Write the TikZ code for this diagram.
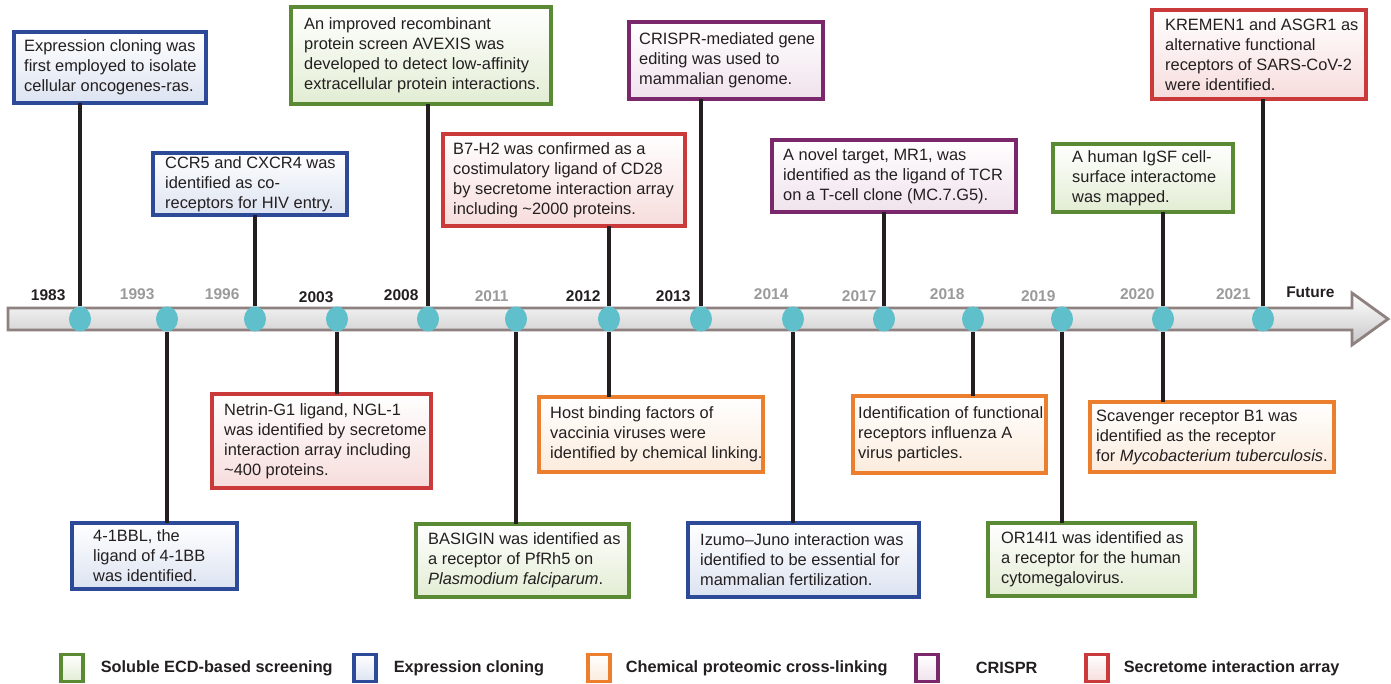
\documentclass[tikz,border=0pt]{standalone}
\usepackage{fontspec}
\setmainfont{Liberation Sans}
\usetikzlibrary{positioning,shapes.geometric,shadows}

\definecolor{blueline}{HTML}{2C4A97}
\definecolor{bluefill}{HTML}{DCE3F1}
\definecolor{greenline}{HTML}{5B8A34}
\definecolor{greenfill}{HTML}{E2EDD3}
\definecolor{orangeline}{HTML}{EC7F2E}
\definecolor{orangefill}{HTML}{FBEBDC}
\definecolor{purpleline}{HTML}{7A286B}
\definecolor{purplefill}{HTML}{F0E2EC}
\definecolor{redline}{HTML}{CB3A3B}
\definecolor{redfill}{HTML}{F7DCDC}
\definecolor{dotcol}{HTML}{5FBFCB}
\definecolor{barline}{HTML}{8E8180}
\definecolor{yeargray}{HTML}{9A9A9A}
\definecolor{ink}{HTML}{231F20}

\begin{document}
\begin{tikzpicture}[x=1pt,y=-1pt,
    evbox/.style={draw=#1line, top color=white, bottom color=#1fill, line width=3.2pt,
                  outer sep=0pt, inner sep=0pt, anchor=north west,
                  drop shadow={opacity=0.2, shadow xshift=1.5pt, shadow yshift=-1.5pt}},
    evtext/.style={anchor=west, align=left, inner sep=0pt, text=ink,
                   font=\fontsize{16.4}{20}\selectfont},
    stem/.style={draw=ink, line width=3.2pt},
    dot/.style={ellipse, fill=dotcol, minimum width=22, minimum height=25, inner sep=0pt},
    yr/.style={anchor=base east, text=ink, font=\bfseries\fontsize{15.5}{18}\selectfont},
    yrgray/.style={yr, text=yeargray},
    keybox/.style={draw=#1line, top color=white, bottom color=#1fill, line width=3.2pt,
                   minimum width=22, minimum height=27, inner sep=0pt},
    keytext/.style={text=ink, inner sep=0pt, font=\bfseries\fontsize{16.3}{19}\selectfont}
]
\path[use as bounding box] (0,0) rectangle (1391,684);

% the time line
\draw[draw=barline, line width=2.8pt, top color=white, bottom color=black!22]
  (8,308) -- (1352,308) -- (1352,293) -- (1388,319) -- (1352,345) -- (1352,330) -- (8,330) -- cycle;

% dots on the line
\node[dot] (d1983) at (80,319) {};
\node[dot] (d1993) at (167,319) {};
\node[dot] (d1996) at (255,319) {};
\node[dot] (d2003) at (337,319) {};
\node[dot] (d2008) at (428,319) {};
\node[dot] (d2011) at (516,319) {};
\node[dot] (d2012) at (609,319) {};
\node[dot] (d2013) at (701,319) {};
\node[dot] (d2014) at (793,319) {};
\node[dot] (d2017) at (884,319) {};
\node[dot] (d2018) at (973,319) {};
\node[dot] (d2019) at (1062,319) {};
\node[dot] (d2020) at (1163,319) {};
\node[dot] (d2021) at (1263,319) {};

% years
\node[yr] (y1983) at (69,301) {1983};
\node[yrgray] (y1993) at (158,300) {1993};
\node[yrgray] (y1996) at (243,300) {1996};
\node[yr] (y2003) at (337,303) {2003};
\node[yr] (y2008) at (422,301) {2008};
\node[yrgray] (y2011) at (512,302) {2011};
\node[yr] (y2012) at (604,302) {2012};
\node[yr] (y2013) at (694,302) {2013};
\node[yrgray] (y2014) at (792,300) {2014};
\node[yrgray] (y2017) at (880,302) {2017};
\node[yrgray] (y2018) at (968,300) {2018};
\node[yrgray] (y2019) at (1059,302) {2019};
\node[yrgray] (y2020) at (1158,300) {2020};
\node[yrgray] (y2021) at (1254,300) {2021};
\node[yr] (yfut) at (1338,298) {Future};

% events above the line
\node[evbox=blue, minimum width=192, minimum height=71,
      label={[evtext, xshift=10]west:{Expression cloning was\\first employed to isolate\\cellular oncogenes-ras.}}]
      (b1983) at (14,32) {};
\node[evbox=blue, minimum width=194, minimum height=62,
      label={[evtext, xshift=12]west:{CCR5 and CXCR4 was\\identified as co-\\receptors for HIV entry.}}]
      (b1996) at (153,153) {};
\node[evbox=green, minimum width=260, minimum height=97,
      label={[evtext, xshift=13]west:{An improved recombinant\\protein screen AVEXIS was\\developed to detect low-affinity\\extracellular protein interactions.}}]
      (b2008) at (291,7) {};
\node[evbox=red, minimum width=242, minimum height=92,
      label={[evtext, xshift=10]west:{B7-H2 was confirmed as a\\costimulatory ligand of CD28\\by secretome interaction array\\including \textasciitilde2000 proteins.}}]
      (b2012a) at (443,134) {};
\node[evbox=purple, minimum width=194, minimum height=77,
      label={[evtext, xshift=10]west:{CRISPR-mediated gene\\editing was used to\\mammalian genome.}}]
      (b2013) at (629,22) {};
\node[evbox=purple, minimum width=244, minimum height=72,
      label={[evtext, xshift=11]west:{A novel target, MR1, was\\identified as the ligand of TCR\\on a T-cell clone (MC.7.G5).}}]
      (b2017) at (772,140) {};
\node[evbox=green, minimum width=180, minimum height=68,
      label={[evtext, xshift=19]west:{A human IgSF cell-\\surface interactome\\was mapped.}}]
      (b2020a) at (1053,144) {};
\node[evbox=red, minimum width=214, minimum height=89,
      label={[evtext, xshift=13]west:{KREMEN1 and ASGR1 as\\alternative functional\\receptors of SARS-CoV-2\\were identified.}}]
      (b2021) at (1152,10) {};

% events below the line
\node[evbox=blue, minimum width=165, minimum height=66,
      label={[evtext, xshift=21]west:{4-1BBL, the\\ligand of 4-1BB\\was identified.}}]
      (b1993) at (72,523) {};
\node[evbox=red, minimum width=219, minimum height=94,
      label={[evtext, xshift=12]west:{Netrin-G1 ligand, NGL-1\\was identified by secretome\\interaction array including\\\textasciitilde400 proteins.}}]
      (b2003) at (212,394) {};
\node[evbox=green, minimum width=213, minimum height=73,
      label={[evtext, xshift=12]west:{BASIGIN was identified as\\a receptor of PfRh5 on\\\textit{Plasmodium falciparum}.}}]
      (b2011) at (416,524) {};
\node[evbox=orange, minimum width=224, minimum height=75,
      label={[evtext, xshift=11]west:{Host binding factors of\\vaccinia viruses were\\identified by chemical linking.}}]
      (b2012b) at (539,397) {};
\node[evbox=blue, minimum width=231, minimum height=74,
      label={[evtext, xshift=12]west:{Izumo--Juno interaction was\\identified to be essential for\\mammalian fertilization.}}]
      (b2014) at (688,523) {};
\node[evbox=orange, minimum width=193, minimum height=77,
      label={[evtext, xshift=5]west:{Identification of functional\\receptors influenza A\\virus particles.}}]
      (b2018) at (853,396) {};
\node[evbox=green, minimum width=207, minimum height=73,
      label={[evtext, xshift=13]west:{OR14I1 was identified as\\a receptor for the human\\cytomegalovirus.}}]
      (b2019) at (988,523) {};
\node[evbox=orange, minimum width=244, minimum height=70,
      label={[evtext, xshift=6]west:{Scavenger receptor B1 was\\identified as the receptor\\for \textit{Mycobacterium tuberculosis}.}}]
      (b2020b) at (1090,402) {};

% stems from the dots to the boxes
\draw[stem] (d1983.north) -- (d1983 |- b1983.south);
\draw[stem] (d1996.north) -- (d1996 |- b1996.south);
\draw[stem] (d2008.north) -- (d2008 |- b2008.south);
\draw[stem] (d2012.north) -- (d2012 |- b2012a.south);
\draw[stem] (d2013.north) -- (d2013 |- b2013.south);
\draw[stem] (d2017.north) -- (d2017 |- b2017.south);
\draw[stem] (d2020.north) -- (d2020 |- b2020a.south);
\draw[stem] (d2021.north) -- (d2021 |- b2021.south);
\draw[stem] (d1993.south) -- (d1993 |- b1993.north);
\draw[stem] (d2003.south) -- (d2003 |- b2003.north);
\draw[stem] (d2011.south) -- (d2011 |- b2011.north);
\draw[stem] (d2012.south) -- (d2012 |- b2012b.north);
\draw[stem] (d2014.south) -- (d2014 |- b2014.north);
\draw[stem] (d2018.south) -- (d2018 |- b2018.north);
\draw[stem] (d2019.south) -- (d2019 |- b2019.north);
\draw[stem] (d2020.south) -- (d2020 |- b2020b.north);

% legend
\node[keybox=green] (k1) at (72,668) {};
\node[keytext, right=16pt of k1] (t1) {Soluble ECD-based screening};
\node[keybox=blue] (k2) at (365,668) {};
\node[keytext, right=16pt of k2] (t2) {Expression cloning};
\node[keybox=orange] (k3) at (599,668) {};
\node[keytext, right=14pt of k3] (t3) {Chemical proteomic cross-linking};
\node[keybox=purple] (k4) at (927,668) {};
\node[keytext, right=36pt of k4] (t4) {CRISPR};
\node[keybox=red] (k5) at (1097,668) {};
\node[keytext, right=14pt of k5] (t5) {Secretome interaction array};

\end{tikzpicture}
\end{document}
